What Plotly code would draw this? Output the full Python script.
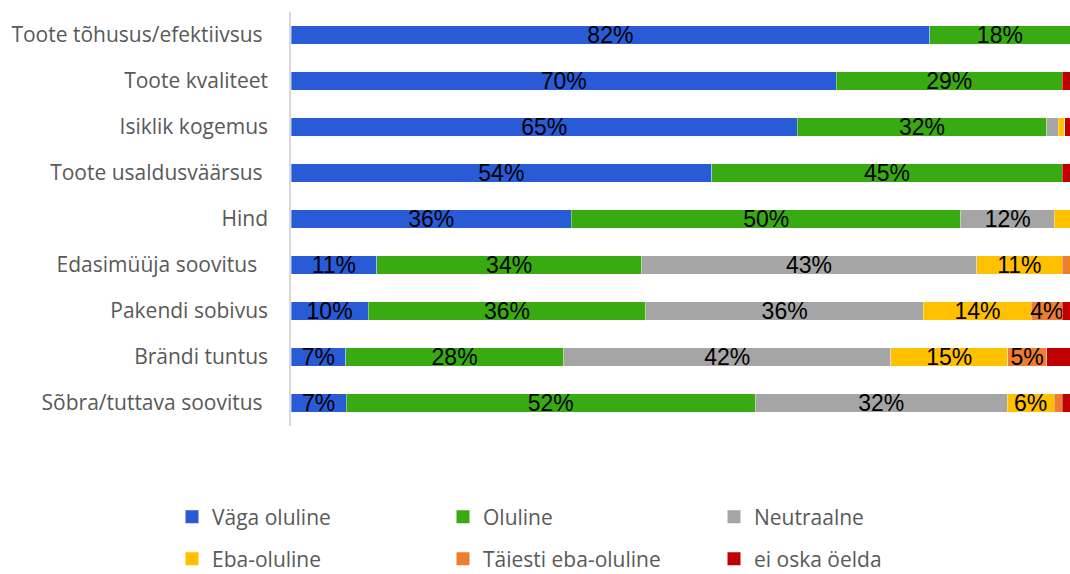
import plotly.graph_objects as go

NBSP = "\u00a0"

categories = [
    "Toote tõhusus/efektiivsus" + NBSP,
    "Toote kvaliteet",
    "Isiklik kogemus",
    "Toote usaldusväärsus" + NBSP,
    "Hind",
    "Edasimüüja soovitus" + NBSP * 2,
    "Pakendi sobivus",
    "Brändi tuntus",
    "Sõbra/tuttava soovitus" + NBSP,
]

series_names = ["Väga oluline", "Oluline", "Neutraalne", "Eba-oluline",
                "Täiesti eba-oluline", "ei oska öelda"]

vaga_oluline = [82, 70, 65, 54, 36, 11, 10, 7, 7]
oluline = [18, 29, 32, 45, 50, 34, 36, 28, 52]
neutraalne = [0, 0, 1.5, 0, 12, 43, 36, 42, 32]
eba_oluline = [0, 0, 0.8, 0, 2, 11, 14, 15, 6]
taiesti_eba_oluline = [0, 0, 0, 0, 0, 1, 4, 5, 1]
ei_oska_oelda = [0, 1, 0.7, 1, 0, 0, 1, 3, 1]

series_values = [vaga_oluline, oluline, neutraalne, eba_oluline,
                 taiesti_eba_oluline, ei_oska_oelda]
colors = ["#2A5BD7", "#38AB13", "#A5A5A5", "#FFC000", "#ED7D31", "#C00000"]

# legend grid: 3 columns x 2 rows, one legend box per series (pixel positions)
legend_cols_px = [172, 443, 714]
legend_rows_px = [517, 559]

fig = go.Figure()
for name, vals, col in zip(series_names, series_values, colors):
    labels = [f"{round(v)}%" if v >= 4 else "" for v in vals]
    fig.add_trace(go.Bar(
        y=categories, x=vals, name=name, orientation="h",
        marker=dict(color=col, line=dict(color="rgba(255,255,255,0.6)", width=0.6)),
        text=labels, textposition="inside", insidetextanchor="middle",
        textangle=0, textfont=dict(family="Liberation Sans, Arial", size=23, color="black"),
        showlegend=False, hoverinfo="skip",
    ))

# legend entries with larger square swatches
legend_layouts = {}
for i, (name, col) in enumerate(zip(series_names, colors)):
    legend_id = "legend" if i == 0 else f"legend{i + 1}"
    fig.add_trace(go.Scatter(
        x=[None], y=[None], mode="markers", name=name,
        marker=dict(symbol="square", size=13, color=col),
        legend=legend_id, showlegend=True, hoverinfo="skip",
    ))
    legend_layouts[legend_id] = dict(
        orientation="h", xref="container", yref="container",
        xanchor="left", yanchor="middle",
        x=legend_cols_px[i % 3] / 1070, y=1 - legend_rows_px[i // 3] / 574,
        font=dict(family="Open Sans, Noto Sans, sans-serif", size=21, color="#595959"),
        bgcolor="rgba(0,0,0,0)", itemsizing="trace", visible=True,
    )

fig.update_layout(
    barmode="stack", barnorm="percent", bargap=0.6,
    width=1070, height=574, showlegend=True,
    margin=dict(l=291, r=0, t=12, b=148),
    plot_bgcolor="white", paper_bgcolor="white",
    uniformtext=dict(minsize=23, mode="show"),
    xaxis=dict(range=[0, 100], showticklabels=False, showgrid=False,
               zeroline=False, fixedrange=True),
    yaxis=dict(categoryorder="array", categoryarray=categories[::-1],
               showline=True, linecolor="#D9D9D9", linewidth=1.5,
               ticks="", ticklabelstandoff=17,
               tickfont=dict(family="Open Sans, Noto Sans, sans-serif", size=21, color="#595959")),
    **legend_layouts,
)

fig.write_html("out.html")
